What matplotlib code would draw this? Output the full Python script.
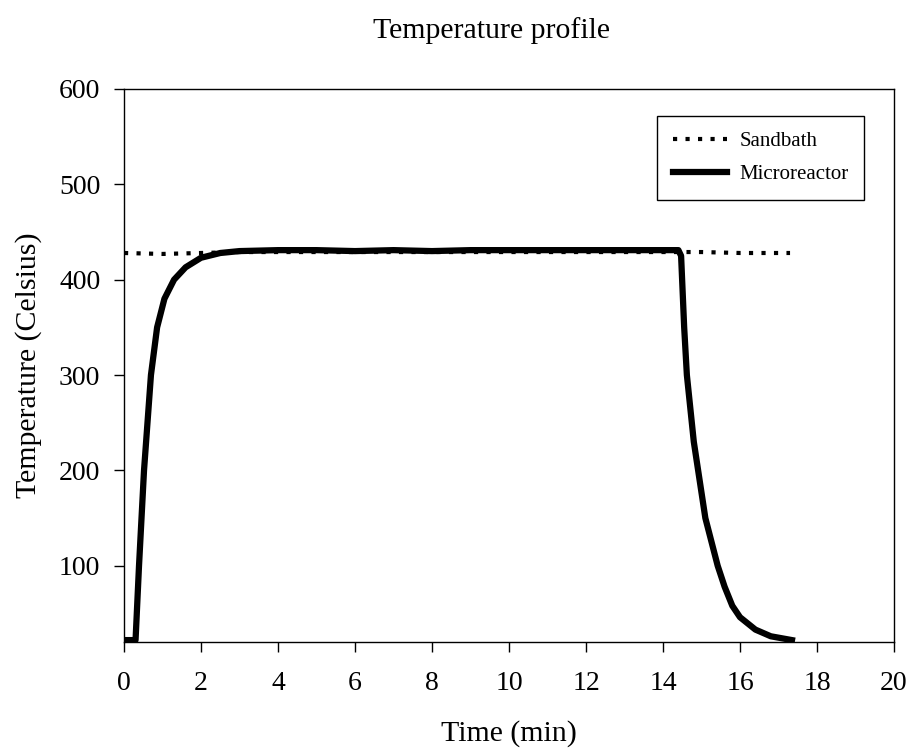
import matplotlib.pyplot as plt

plt.rcParams['font.family'] = ['Liberation Serif', 'DejaVu Serif']

sand_time = [0, 1, 2, 3, 4, 5, 6, 7, 8, 9, 10, 11, 12, 13, 14, 15, 16, 17.3]
sand_temp = [428, 427, 428, 429, 429, 429, 429, 429, 429, 429, 429, 429, 429, 429, 429, 429, 428, 428]

micro_time = [0, 0.3, 0.39, 0.52, 0.7, 0.86, 1.05, 1.3, 1.6, 2.0, 2.5, 3.0, 4, 5, 6,
              7, 8, 9, 10, 11, 12, 13, 14, 14.4, 14.47, 14.55, 14.62, 14.8, 15.1,
              15.42, 15.6, 15.8, 16.0, 16.4, 16.8, 17.35]
micro_temp = [22, 22, 100, 200, 300, 350, 380, 400, 413, 423, 428, 430, 431, 431, 430,
              431, 430, 431, 431, 431, 431, 431, 431, 431, 425, 350, 300, 230, 150,
              100, 78, 58, 46, 33, 26, 22]

fig = plt.figure(figsize=(9.11, 7.48), dpi=100)
ax = fig.add_axes([124/911, 1-642/748, 770/911, 553/748])

ax.plot(sand_time, sand_temp, 'k', linestyle=(0, (1, 2)), linewidth=3,
        label='Sandbath')
ax.plot(micro_time, micro_temp, 'k', linewidth=4.5, label='Microreactor')

ax.set_xlim(0, 20)
ax.set_ylim(20, 600)
ax.set_xticks(range(0, 21, 2))
ax.set_yticks(range(100, 601, 100))
ax.tick_params(direction='out', length=7, width=1, labelsize=20, top=False, right=False)
ax.tick_params(axis='x', pad=14)
ax.tick_params(axis='y', pad=10)
for s in ax.spines.values():
    s.set_linewidth(1)

ax.set_xlabel('Time (min)', fontsize=21.5, labelpad=17)
ax.set_ylabel('Temperature (Celsius)', fontsize=21.5, labelpad=12)
fig.text(492/911, 0.977, 'Temperature profile', fontsize=21.5, ha='center', va='top')

leg = ax.legend(loc='upper right', bbox_to_anchor=(0.975, 0.97), fontsize=15,
                fancybox=False, edgecolor='k', framealpha=1, handlelength=2.6,
                borderpad=0.75, labelspacing=0.65, handletextpad=0.6)
leg.get_frame().set_linewidth(1)

plt.savefig('out.png', dpi=100)
